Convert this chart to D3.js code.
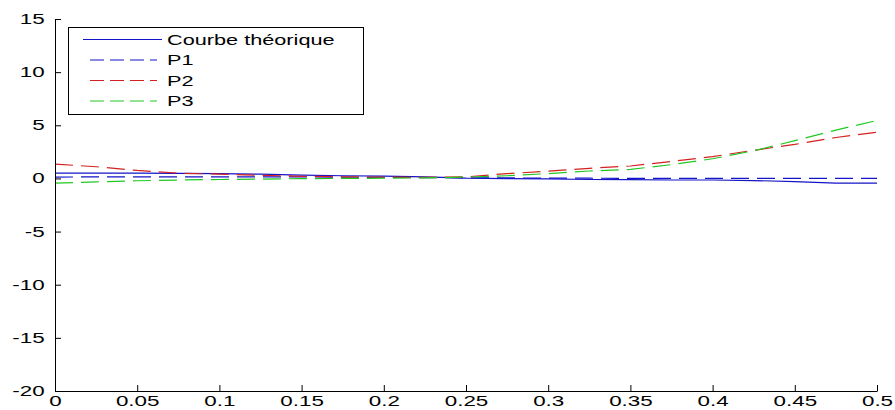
<!DOCTYPE html>
<html><head><meta charset="utf-8">
<script src="https://cdn.jsdelivr.net/npm/d3@7"></script>
<style>body{margin:0;background:#fff}svg text{font-family:"Liberation Sans",Arial,sans-serif}</style>
</head><body><svg id="c" width="895" height="410"></svg>
<script>
const xValues = [0,0.025,0.05,0.075,0.1,0.125,0.15,0.175,0.2,0.225,0.25,0.275,0.3,0.325,0.35,0.375,0.4,0.425,0.45,0.475,0.5];
const theory  = [0.5,0.5,0.5,0.48,0.45,0.4,0.32,0.25,0.22,0.15,0.02,-0.02,-0.05,-0.1,-0.12,-0.15,-0.15,-0.2,-0.3,-0.45,-0.45];
const p1      = [0.12,0.15,0.15,0.15,0.15,0.15,0.15,0.12,0.1,0.08,0.05,0.05,0.03,0.02,0.01,0,0,0,0,0,0];
const p2      = [1.35,1.1,0.75,0.5,0.4,0.3,0.2,0.15,0.12,0.1,0.15,0.45,0.68,0.95,1.17,1.6,2.05,2.65,3.2,3.85,4.35];
const p3      = [-0.45,-0.32,-0.22,-0.15,-0.1,-0.06,-0.02,0,0.02,0.05,0.12,0.25,0.45,0.7,0.85,1.3,1.85,2.6,3.55,4.55,5.45];
const seriesNames = ["Courbe théorique","P1","P2","P3"];
const xTicks = [0,0.05,0.1,0.15,0.2,0.25,0.3,0.35,0.4,0.45,0.5];
const xTickLabels = ["0","0.05","0.1","0.15","0.2","0.25","0.3","0.35","0.4","0.45","0.5"];
const yTicks = [-20,-15,-10,-5,0,5,10,15];
const yTickLabels = ["-20","-15","-10","-5","0","5","10","15"];

const svg = d3.select("#c");
const x = d3.scaleLinear().domain([0,0.5]).range([55,877]);
const y = d3.scaleLinear().domain([-20,15]).range([391,19]);

const series = [
  {name: seriesNames[0], values: theory, color: "#1414c8", dash: null},
  {name: seriesNames[1], values: p1, color: "#1414c8", dash: "18,8"},
  {name: seriesNames[2], values: p2, color: "#d42020", dash: "18,8"},
  {name: seriesNames[3], values: p3, color: "#22c822", dash: "18,8"}
];

const line = d3.line().x((d,i)=>x(xValues[i])).y(d=>y(d));
series.forEach(s=>{
  svg.append("path").datum(s.values).attr("d", line)
    .attr("fill","none").attr("stroke", s.color).attr("stroke-width",1.2)
    .attr("stroke-dasharray", s.dash);
});

const xAxis = d3.axisBottom(x).tickValues(xTicks)
  .tickFormat((d,i)=>xTickLabels[i]).tickSize(-6).tickSizeOuter(0).tickPadding(5);
const gx = svg.append("g").attr("transform","translate(0,391)").call(xAxis);
gx.selectAll("text").attr("transform","scale(1.6,1)").style("font-size","14px").attr("fill","#000");

const yAxis = d3.axisLeft(y).tickValues(yTicks)
  .tickFormat((d,i)=>yTickLabels[i]).tickSize(-6).tickSizeOuter(0).tickPadding(7);
const gy = svg.append("g").attr("transform","translate(55,0)").call(yAxis);
gy.selectAll("text").attr("x",-6.5).attr("transform","scale(1.6,1)").style("font-size","14px").attr("fill","#000");
[gx,gy].forEach(g=>{g.selectAll("path,line").attr("stroke","#000");});

// legend
const lg = svg.append("g");
lg.append("rect").attr("x",68.5).attr("y",27.5).attr("width",295).attr("height",87)
  .attr("fill","#fff").attr("stroke","#000");
const rowsY = [39.5,60,80.5,101];
series.forEach((s,i)=>{
  lg.append("line").attr("x1", s.dash?90:83).attr("x2", s.dash?157:162)
    .attr("y1", rowsY[i]).attr("y2", rowsY[i])
    .attr("stroke", s.color).attr("stroke-width",1.2)
    .attr("stroke-dasharray", s.dash ? "14,6" : null);
  lg.append("text").attr("transform",`translate(167,${rowsY[i]}) scale(1.55,1)`)
    .attr("dy","0.36em").style("font-size","14px").attr("fill","#000").text(s.name);
});
</script></body></html>
